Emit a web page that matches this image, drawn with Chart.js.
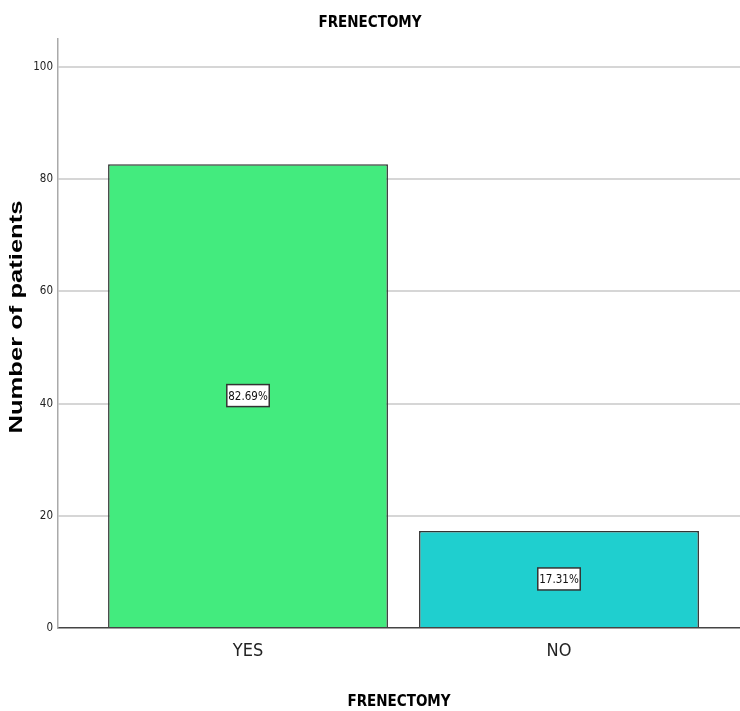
<!DOCTYPE html>
<html>
<head>
<meta charset="utf-8">
<script src="https://cdn.jsdelivr.net/npm/chart.js@4"></script>
<style>
  html, body { margin: 0; padding: 0; background: #fff; }
  #wrap { width: 740px; height: 711px; }
</style>
</head>
<body>
<div id="wrap"><canvas id="chart"></canvas></div>
<script>
const categories = ['YES', 'NO'];
const percents = [82.69, 17.31];
const barColors = ['#43EB7E', '#1FCFCF'];
const yTicks = [0, 20, 40, 60, 80, 100];

const narrow = "'Liberation Sans Narrow', 'DejaVu Sans Condensed', 'Liberation Sans', sans-serif";

// percentage boxes in the middle of each bar
const boxLabels = {
  id: 'boxLabels',
  afterDatasetsDraw(chart) {
    const ctx = chart.ctx;
    const meta = chart.getDatasetMeta(0);
    ctx.save();
    ctx.font = '11.5px ' + narrow;
    ctx.textAlign = 'center';
    ctx.textBaseline = 'middle';
    meta.data.forEach((bar, i) => {
      const txt = percents[i].toFixed(2) + '%';
      const cx = bar.x;
      const cy = (bar.y + bar.base) / 2;
      const w = ctx.measureText(txt).width + 3;
      const h = 22;
      ctx.fillStyle = '#fff';
      ctx.fillRect(cx - w / 2, cy - h / 2, w, h);
      ctx.strokeStyle = '#333';
      ctx.lineWidth = 1.5;
      ctx.strokeRect(cx - w / 2, cy - h / 2, w, h);
      ctx.fillStyle = '#111';
      ctx.fillText(txt, cx, cy + 1);
    });
    ctx.restore();
  }
};

// y title, stretched like the original export
const yTitle = {
  id: 'yTitle',
  afterDraw(chart) {
    const ctx = chart.ctx;
    ctx.save();
    ctx.translate(17, 317);
    ctx.rotate(-Math.PI / 2);
    ctx.scale(1.42, 1);
    ctx.font = "bold 18px 'Liberation Sans', Arial, sans-serif";
    ctx.fillStyle = '#000';
    ctx.textAlign = 'center';
    ctx.textBaseline = 'middle';
    ctx.fillText('Number of patients', 0, 0);
    ctx.restore();
  }
};

new Chart(document.getElementById('chart'), {
  type: 'bar',
  data: {
    datasets: [{
      data: categories.map((c, i) => ({ x: i + 1, y: percents[i] })),
      backgroundColor: barColors,
      borderColor: '#333',
      borderWidth: 1.5,
      borderSkipped: 'bottom',
      barPercentage: 0.9,
      categoryPercentage: 1
    }]
  },
  options: {
    responsive: true,
    maintainAspectRatio: false,
    animation: false,
    layout: { padding: { left: 0, right: 0, top: 0, bottom: 0 } },
    plugins: {
      legend: { display: false },
      tooltip: { enabled: false },
      title: {
        display: true,
        text: 'FRENECTOMY',
        color: '#000',
        font: { family: narrow, size: 15, weight: 'bold' },
        padding: { top: 14, bottom: 7 }
      }
    },
    scales: {
      x: {
        type: 'linear',
        offset: false,
        min: 0.389,
        max: 2.582,
        afterBuildTicks: (scale) => { scale.ticks = categories.map((c, i) => ({ value: i + 1 })); },
        ticks: {
          callback: (v) => categories[v - 1] || '',
          color: '#222',
          font: { family: narrow, size: 18 },
          padding: 13
        },
        grid: { display: false, drawTicks: false },
        border: { color: '#444', width: 1.5 },
        title: {
          display: true,
          text: 'FRENECTOMY',
          color: '#000',
          font: { family: narrow, size: 15, weight: 'bold' },
          padding: { top: 18, bottom: 0 }
        },
        afterFit: (scale) => { scale.height = 83; }
      },
      y: {
        min: 0,
        max: 105,
        afterBuildTicks: (scale) => { scale.ticks = yTicks.map(v => ({ value: v })); },
        ticks: {
          color: '#222',
          font: { family: narrow, size: 11.5 },
          padding: 5
        },
        grid: {
          color: (c) => c.tick && c.tick.value === 0 ? 'rgba(0,0,0,0)' : '#d6d6d6',
          lineWidth: 2,
          drawTicks: false
        },
        border: { color: '#aaa', width: 1.5 },
        afterFit: (scale) => { scale.width = 58; }
      }
    }
  },
  plugins: [boxLabels, yTitle]
});
</script>
</body>
</html>
